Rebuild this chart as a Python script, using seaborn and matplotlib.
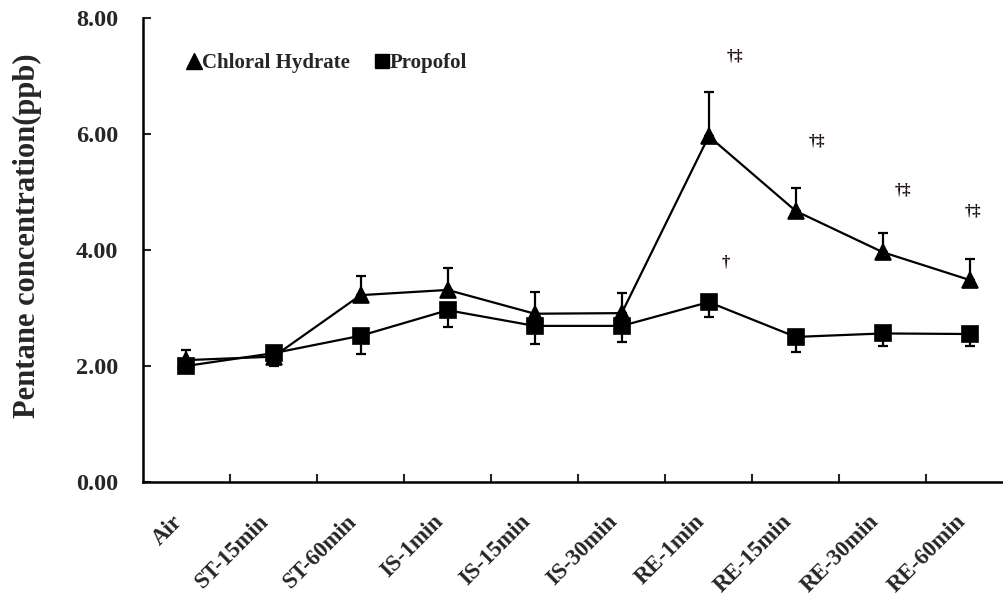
import pandas as pd
import matplotlib
matplotlib.use('Agg')
import matplotlib.pyplot as plt
from matplotlib.lines import Line2D
import seaborn as sns

# Pentane concentration (ppb)
cats = ['Air', 'ST-15min', 'ST-60min', 'IS-1min', 'IS-15min', 'IS-30min',
        'RE-1min', 'RE-15min', 'RE-30min', 'RE-60min']
chloral = [2.10, 2.16, 3.22, 3.31, 2.90, 2.91, 5.96, 4.67, 3.96, 3.48]
chloral_err = [0.18, 0.05, 0.33, 0.38, 0.38, 0.35, 0.77, 0.39, 0.33, 0.36]
propofol = [2.00, 2.22, 2.52, 2.96, 2.69, 2.69, 3.10, 2.50, 2.56, 2.55]
propofol_err = [0.05, 0.22, 0.32, 0.29, 0.31, 0.28, 0.26, 0.26, 0.21, 0.21]

# significance marks: (text, x in category units, y value)
sig_text = ['†‡', '†‡', '†‡', '†‡', '†']
sig_x = [6.3, 7.24, 8.23, 9.03, 6.2]
sig_y = [7.33, 5.86, 5.02, 4.66, 3.78]


def load_data():
  ch = pd.DataFrame({'time': cats, 'ppb': chloral, 'err': chloral_err})
  ch['group'] = 'Chloral Hydrate'
  pr = pd.DataFrame({'time': cats, 'ppb': propofol, 'err': propofol_err})
  pr['group'] = 'Propofol'
  return pd.concat([ch, pr], ignore_index=True)


def plot_pentane(df):
  sns.set_style('ticks')
  plt.rcParams['font.family'] = ['Liberation Serif', 'DejaVu Sans']
  plt.rcParams['font.weight'] = 'bold'

  fig = plt.figure(figsize=(10.04, 5.95), dpi=100)
  ax = fig.add_axes([0.1424, 0.19, 0.867, 0.78])

  sns.pointplot(ax=ax, data=df, x='time', y='ppb', hue='group',
                palette={'Chloral Hydrate': 'black', 'Propofol': 'black'},
                markers=['^', 's'], linestyles=['-', '-'], errorbar=None,
                dodge=False, markersize=11, linewidth=1.6, legend=False)

  # one-sided error bars: up for chloral hydrate, down for propofol
  ch = df[df.group == 'Chloral Hydrate']
  pr = df[df.group == 'Propofol']
  xs = list(range(len(cats)))
  ax.errorbar(xs, ch.ppb, yerr=[[0] * len(cats), ch.err], fmt='none',
              ecolor='black', elinewidth=1.6, capsize=3.5, capthick=1.6, zorder=1)
  ax.errorbar(xs, pr.ppb, yerr=[pr.err, [0] * len(cats)], fmt='none',
              ecolor='black', elinewidth=1.6, capsize=3.5, capthick=1.6, zorder=1)

  for t, x, y in zip(sig_text, sig_x, sig_y):
    ax.text(x, y, t, ha='center', va='center', fontsize=12,
            fontweight='bold', color='#1e0a18')

  ax.set_xlim(-0.5, len(cats) - 0.5)
  ax.set_ylim(0, 8)
  ax.set_yticks([0, 2, 4, 6, 8])
  ax.set_yticklabels(['%.2f' % v for v in [0, 2, 4, 6, 8]])
  ax.set_xticks(xs)
  ax.set_xticklabels(cats, rotation=45, ha='right', va='top')
  ax.set_xticks([x + 0.5 for x in xs], minor=True)
  ax.tick_params(axis='x', which='major', length=0, pad=21, labelsize=16.5)
  ax.tick_params(axis='x', which='minor', direction='in', length=6, width=1.5)
  ax.tick_params(axis='y', direction='in', length=6, width=1.5, pad=18,
                 labelsize=17.5)

  sns.despine(ax=ax)
  for s in ['left', 'bottom']:
    ax.spines[s].set_linewidth(1.8)
    ax.spines[s].set_color('black')

  ax.set_xlabel('')
  ax.set_ylabel('Pentane concentration(ppb)', fontsize=22, fontweight='bold')
  ax.yaxis.set_label_coords(-0.116, 0.53)

  handles = [Line2D([], [], color='black', marker='^', ls='none', markersize=11),
             Line2D([], [], color='black', marker='s', ls='none', markersize=10)]
  ax.legend(handles, ['Chloral Hydrate', 'Propofol'], ncol=2, frameon=False,
            loc='upper left', bbox_to_anchor=(0.03, 0.965), handlelength=0.6,
            handletextpad=0.1, columnspacing=1.2, prop={'size': 15, 'weight': 'bold'})

  fig.savefig('out.png', dpi=100)


def main():
  df = load_data()
  plot_pentane(df)


if __name__ == '__main__':
  main()
